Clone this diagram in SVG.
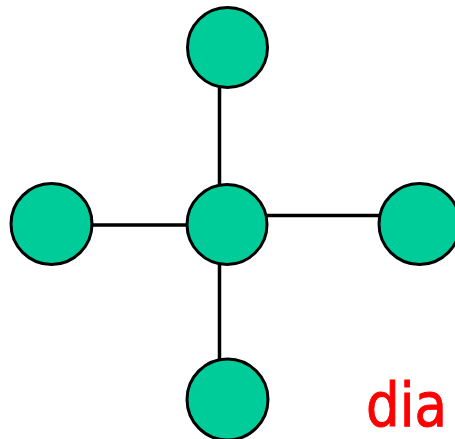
<svg xmlns="http://www.w3.org/2000/svg" width="455" height="439" viewBox="0 0 455 439">
<style>
.node{fill:#00CC99;stroke:#000;stroke-width:3}
.edge{stroke:#000;stroke-width:3.5;fill:none}
.lbl{font-family:"DejaVu Sans",sans-serif;fill:#FF0000;stroke:#FF0000;stroke-width:1;font-size:60px}
</style>
<rect width="455" height="439" fill="#fff"/>
<g id="connectors">
<line class="edge" x1="219.5" y1="86" x2="219.5" y2="186"/>
<line class="edge" x1="219.5" y1="263" x2="219.5" y2="361"/>
<line class="edge" x1="91" y1="225" x2="188" y2="225"/>
<line class="edge" x1="266" y1="215.5" x2="380" y2="215.5"/>
</g>
<g id="node-top"><circle class="node" cx="227.5" cy="47.5" r="40"/></g>
<g id="node-center"><circle class="node" cx="227" cy="224.5" r="40"/></g>
<g id="node-left"><circle class="node" cx="51.5" cy="224" r="40.5"/></g>
<g id="node-right"><circle class="node" cx="419.5" cy="224" r="40.5"/></g>
<g id="node-bottom"><circle class="node" cx="227.5" cy="399.5" r="40.5"/></g>
<text class="lbl" x="366" y="426" textLength="81" lengthAdjust="spacingAndGlyphs">dia</text>
</svg>
